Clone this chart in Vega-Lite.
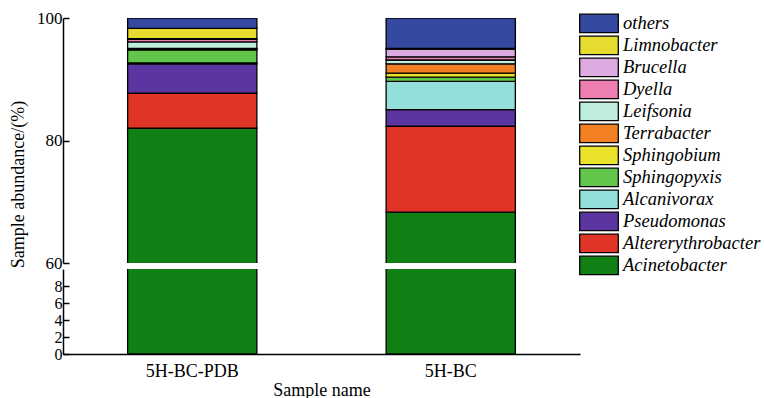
{
  "$schema": "https://vega.github.io/schema/vega-lite/v6.json",
  "padding": {"left": 9, "top": 9, "right": 2, "bottom": 0},
  "bounds": "flush",
  "config": {
    "font": "Liberation Serif",
    "view": {"stroke": null},
    "axis": {
      "labelFont": "Liberation Serif", "titleFont": "Liberation Serif",
      "labelFontSize": 18, "titleFontSize": 18, "titleFontWeight": "normal",
      "labelColor": "black", "titleColor": "black",
      "domainColor": "black", "tickColor": "black",
      "domainWidth": 1.5, "tickWidth": 1.5, "grid": false, "labelOverlap": false
    }
  },
  "data": {
    "values": [
      {"sample": "5H-BC-PDB", "genus": "Acinetobacter", "value": 82.0, "rank": 1},
      {"sample": "5H-BC-PDB", "genus": "Altererythrobacter", "value": 5.74, "rank": 2},
      {"sample": "5H-BC-PDB", "genus": "Pseudomonas", "value": 4.78, "rank": 3},
      {"sample": "5H-BC-PDB", "genus": "Alcanivorax", "value": 0.13, "rank": 4},
      {"sample": "5H-BC-PDB", "genus": "Sphingopyxis", "value": 2.16, "rank": 5},
      {"sample": "5H-BC-PDB", "genus": "Sphingobium", "value": 0.12, "rank": 6},
      {"sample": "5H-BC-PDB", "genus": "Terrabacter", "value": 0.12, "rank": 7},
      {"sample": "5H-BC-PDB", "genus": "Leifsonia", "value": 1.04, "rank": 8},
      {"sample": "5H-BC-PDB", "genus": "Dyella", "value": 0.42, "rank": 9},
      {"sample": "5H-BC-PDB", "genus": "Brucella", "value": 0.12, "rank": 10},
      {"sample": "5H-BC-PDB", "genus": "Limnobacter", "value": 1.67, "rank": 11},
      {"sample": "5H-BC-PDB", "genus": "others", "value": 1.7, "rank": 12},
      {"sample": "5H-BC", "genus": "Acinetobacter", "value": 68.3, "rank": 1},
      {"sample": "5H-BC", "genus": "Altererythrobacter", "value": 14.03, "rank": 2},
      {"sample": "5H-BC", "genus": "Pseudomonas", "value": 2.71, "rank": 3},
      {"sample": "5H-BC", "genus": "Alcanivorax", "value": 4.6, "rank": 4},
      {"sample": "5H-BC", "genus": "Sphingopyxis", "value": 0.7, "rank": 5},
      {"sample": "5H-BC", "genus": "Sphingobium", "value": 0.65, "rank": 6},
      {"sample": "5H-BC", "genus": "Terrabacter", "value": 1.53, "rank": 7},
      {"sample": "5H-BC", "genus": "Leifsonia", "value": 0.62, "rank": 8},
      {"sample": "5H-BC", "genus": "Dyella", "value": 0.52, "rank": 9},
      {"sample": "5H-BC", "genus": "Brucella", "value": 1.27, "rank": 10},
      {"sample": "5H-BC", "genus": "Limnobacter", "value": 0.1, "rank": 11},
      {"sample": "5H-BC", "genus": "others", "value": 4.97, "rank": 12}
    ]
  },
  "spacing": 6,
  "resolve": {"scale": {"y": "independent", "x": "shared", "color": "shared"}},
  "vconcat": [
    {
      "width": 517, "height": 245,
      "mark": {"type": "bar", "clip": true, "stroke": "black", "strokeWidth": 1.3},
      "encoding": {
        "x": {"field": "sample", "type": "nominal", "sort": ["5H-BC-PDB", "5H-BC"],
              "scale": {"paddingInner": 0.5, "paddingOuter": 0.25}, "axis": null},
        "y": {"field": "value", "type": "quantitative", "stack": "zero",
              "scale": {"domain": [60, 100], "nice": false, "zero": false},
              "axis": {"values": [60, 80, 100], "tickSize": -6, "labelPadding": 7, "labelFontSize": 17,
                       "title": "Sample abundance/(%)", "titleY": 166, "titlePadding": 9}},
        "color": {"field": "genus", "type": "nominal",
          "scale": {
            "domain": ["others", "Limnobacter", "Brucella", "Dyella", "Leifsonia", "Terrabacter", "Sphingobium", "Sphingopyxis", "Alcanivorax", "Pseudomonas", "Altererythrobacter", "Acinetobacter"],
            "range": ["#3549a0", "#e6dc30", "#dcaae0", "#ec7eb2", "#c0eedc", "#f27f22", "#ebe22c", "#62c64c", "#93e0da", "#5b36a0", "#df3426", "#107f14"]
          },
          "legend": {"title": null, "orient": "none", "legendX": 515, "legendY": -5.4,
            "symbolType": "M-0.93,-0.92H2.93V0.92H-0.93Z", "symbolSize": 400,
            "symbolStrokeColor": "#222", "symbolStrokeWidth": 1.3, "symbolOpacity": 1,
            "labelFont": "Liberation Serif", "labelFontSize": 18.5, "labelFontStyle": "italic",
            "labelColor": "black", "labelOffset": 23, "rowPadding": 0, "clipHeight": 21.6, "padding": 0, "labelLimit": 300}},
        "order": {"field": "rank", "type": "quantitative"}
      }
    },
    {
      "width": 517, "height": 85,
      "mark": {"type": "bar", "clip": true, "stroke": "black", "strokeWidth": 1.3},
      "encoding": {
        "x": {"field": "sample", "type": "nominal", "sort": ["5H-BC-PDB", "5H-BC"],
              "scale": {"paddingInner": 0.5, "paddingOuter": 0.25},
              "axis": {"title": "Sample name", "labelAngle": 0, "ticks": false, "labelPadding": 8, "titlePadding": 1}},
        "y": {"field": "value", "type": "quantitative", "stack": "zero",
              "scale": {"domain": [0, 10], "nice": false},
              "axis": {"values": [0, 2, 4, 6, 8], "tickSize": -6, "labelPadding": 7, "labelFontSize": 16, "title": null}},
        "color": {"field": "genus", "type": "nominal"},
        "order": {"field": "rank", "type": "quantitative"}
      }
    }
  ]
}
